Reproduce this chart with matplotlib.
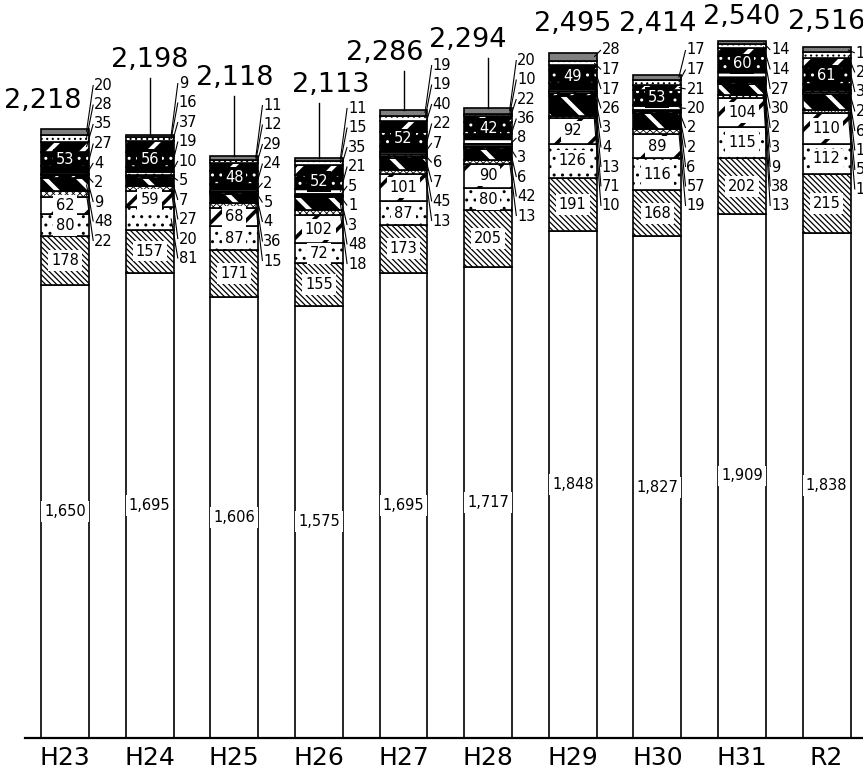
import matplotlib.pyplot as plt
import numpy as np

# Fiscal years (Heisei 23 .. Reiwa 2)
years = ['H23', 'H24', 'H25', 'H26', 'H27', 'H28', 'H29', 'H30', 'H31', 'R2']

# Stacked components, bottom to top
s1 = [1650, 1695, 1606, 1575, 1695, 1717, 1848, 1827, 1909, 1838]
s2 = [178, 157, 171, 155, 173, 205, 191, 168, 202, 215]
s3 = [80, 81, 87, 72, 87, 80, 126, 116, 115, 112]
s4 = [62, 59, 68, 102, 101, 90, 92, 89, 104, 110]
s5 = [22, 20, 15, 18, 13, 13, 10, 19, 13, 12]
s6 = [48, 27, 36, 48, 45, 42, 71, 57, 38, 57]
s7 = [9, 7, 4, 3, 7, 6, 13, 6, 9, 0]
s8 = [2, 5, 5, 1, 6, 3, 4, 2, 3, 10]
s9 = [4, 10, 2, 5, 7, 8, 3, 2, 2, 6]
s10 = [27, 19, 24, 21, 22, 36, 26, 20, 30, 22]
s11 = [53, 56, 48, 52, 52, 42, 49, 53, 60, 61]
s12 = [35, 37, 29, 35, 40, 22, 17, 21, 27, 32]
s13 = [28, 16, 12, 15, 19, 10, 17, 17, 14, 22]
s14 = [20, 9, 11, 11, 19, 20, 28, 17, 14, 19]

series = [s1, s2, s3, s4, s5, s6, s7, s8, s9, s10, s11, s12, s13, s14]

# fill / hatch per component: (face, hatch, hatch colour, hatch width)
styles = [
    ('white', None, 'black', 1.0),
    ('white', '\\\\\\\\\\\\', 'black', 0.9),
    ('white', '..', 'black', 1.0),
    ('white', '/', 'black', 2.6),
    ('white', 'xxxxx', 'black', 0.6),
    ('black', '\\', 'white', 3.0),
    ('black', '//', 'white', 1.5),
    ('white', 'xx', 'black', 0.8),
    ('white', '..', 'black', 0.8),
    ('black', '-', 'white', 2.0),
    ('black', '..', 'white', 1.0),
    ('black', '/', 'white', 3.0),
    ('white', '...', 'black', 0.8),
    ('#7f7f7f', None, 'black', 1.0),
]

# components labelled inside the bar; the rest go into a side column
inside = {0, 1, 2, 3, 10}
inside_skip = {(1, 2)}  # H24's third component is labelled on the side

# layout, in pixels from the top of the image
label_top_px = [85, 83, 105, 108, 65, 60, 50, 50, 50, 53]
label_step_px = 19.5
total_y_px = [101, 60, 78, 85, 53, 40, 24, 24, 17, 22]
total_dx = [-0.26, 0, 0, 0.14, -0.22, -0.24, 0, 0, 0, 0]
total_line = [False, True, True, True, True, True, False, False, False, False]

W, H = 863, 774
base_px = 738
ymax = 2688.0


def ypx(p):
    return (base_px - p) * ymax / base_px


fig = plt.figure(figsize=(W / 100, H / 100), dpi=100)
ax = fig.add_axes([25 / W, (H - base_px) / H, 1 - 25 / W, base_px / H])

x = np.arange(len(years))
width = 0.567
bottom = np.zeros(len(years))
mids = []

for vals, (fc, hatch, hc, hlw) in zip(series, styles):
    vals = np.array(vals, dtype=float)
    with plt.rc_context({'hatch.linewidth': hlw}):
        bars = ax.bar(x, vals, width, bottom=bottom, color=fc, edgecolor=hc,
                      hatch=hatch, linewidth=0)
    for b in bars:
        if hasattr(b, 'set_hatch_linewidth'):
            b.set_hatch_linewidth(hlw)
    ax.bar(x, vals, width, bottom=bottom, fill=False, edgecolor='black',
           linewidth=1.2)
    mids.append(bottom + vals / 2)
    bottom = bottom + vals

totals = bottom

small = dict(fontsize=10.5, family='DejaVu Sans')

for i in range(len(years)):
    # labels inside the bar
    for k in range(len(series)):
        v = series[k][i]
        if k in inside and (i, k) not in inside_skip:
            white = styles[k][0] == 'black'
            ax.text(i, mids[k][i], f'{v:,}', ha='center', va='center',
                    color='white' if white else 'black', zorder=6,
                    bbox=dict(boxstyle='square,pad=0.2',
                              fc='black' if white else 'white', ec='none'),
                    **small)

    # side column, top component first
    side = [k for k in range(len(series) - 1, -1, -1)
            if series[k][i] > 0 and not (k in inside and (i, k) not in inside_skip)]
    lx = i + width / 2 + 0.06
    for n, k in enumerate(side):
        ly = ypx(label_top_px[i] + n * label_step_px)
        ax.text(lx, ly, f'{series[k][i]:,}', ha='left', va='center',
                zorder=6, **small)
        ax.plot([lx - 0.01, i + width / 2 - 0.03], [ly, mids[k][i]],
                color='black', lw=0.8, zorder=5, solid_capstyle='butt')

    # total on top
    ty = ypx(total_y_px[i])
    ax.text(i + total_dx[i], ty, f'{int(totals[i]):,}', ha='center',
            va='center', fontsize=19.5, zorder=6)
    if total_line[i]:
        ax.plot([i, i], [ypx(total_y_px[i] + 18), totals[i]], color='black',
                lw=1.0, zorder=5)

ax.set_xlim(-0.473, 9.43)
ax.set_ylim(0, ymax)
ax.set_xticks(x)
ax.set_xticklabels(years, fontsize=18)
ax.tick_params(axis='x', length=0, pad=6)
ax.set_yticks([])
for side_name in ['top', 'left', 'right']:
    ax.spines[side_name].set_visible(False)
ax.spines['bottom'].set_linewidth(1.6)
ax.patch.set_alpha(0)

fig.savefig('out.png', dpi=100)
